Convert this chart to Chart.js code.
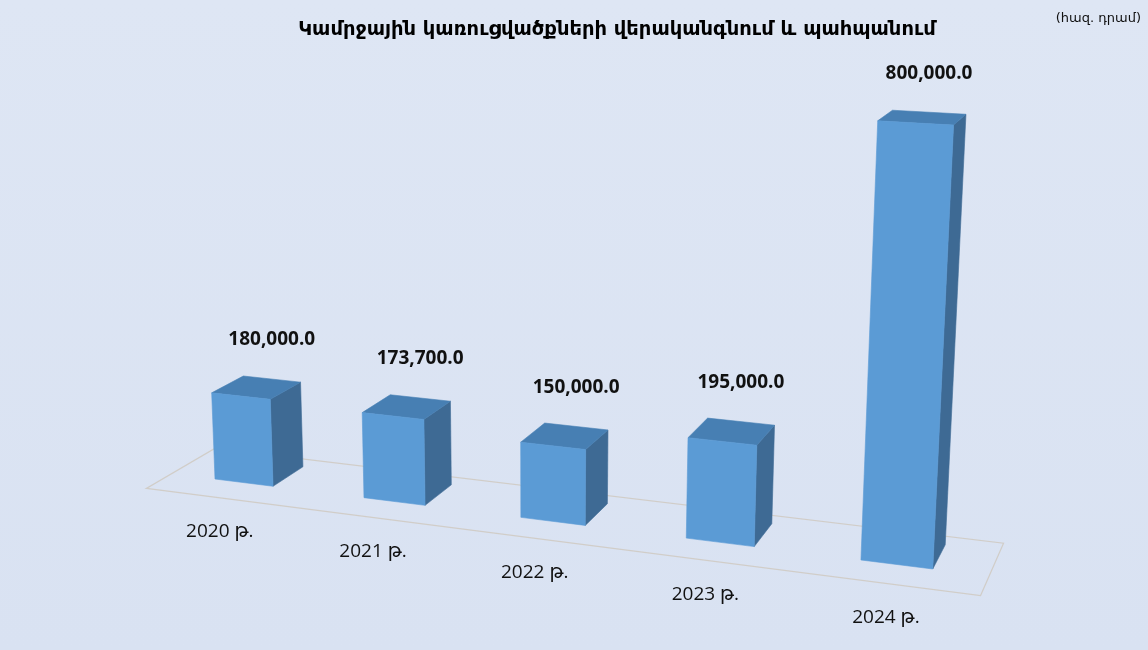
<!DOCTYPE html>
<html lang="hy">
<head>
<meta charset="utf-8">
<title>Կամրջային կառուցվածքների վերականգնում և պահպանում</title>
<script src="https://cdn.jsdelivr.net/npm/chart.js@4.4.1/dist/chart.umd.min.js"></script>
<style>
    html, body {
        margin: 0;
        padding: 0;
    }
    body {
        width: 1148px;
        height: 650px;
        overflow: hidden;
        background: linear-gradient(#dee6f4, #d9e2f2);
    }
</style>
</head>
<body>
<canvas id="bridgeChart" width="1148" height="650"></canvas>
<script>
// Chart data
const years = ['2020 թ.', '2021 թ.', '2022 թ.', '2023 թ.', '2024 թ.'];
const amounts = [180000, 173700, 150000, 195000, 800000];
const chartTitle = 'Կամրջային կառուցվածքների վերականգնում և պահպանում';
const unitNote = '(հազ. դրամ)';

// Perspective camera fitted to the reference (three vanishing points)
// X = category slot, Y = thousands, Z = bar depth
const camera = {
    origin: [215, 479],
    vx: [-5560, -245], wx: -0.02515,
    vy: [541, 8938], wy: -5.6e-5,
    vz: [1330, -203], wz: 0.0288
};
const barWidth = 0.3956;     // share of a slot
const floorDepth = [-0.75, 1.35];

const colors = {
    front: '#5b9bd5',
    side: '#3e6a94',
    top: '#477fb3',
    floor: 'rgba(205, 198, 186, 0.75)',
    text: '#111111'
};

function project(X, Y, Z) {
    const c = camera;
    const d = 1 + c.wx * X + c.wy * Y + c.wz * Z;
    return [
        (c.wx * X * c.vx[0] + c.wy * Y * c.vy[0] + c.wz * Z * c.vz[0] + c.origin[0]) / d,
        (c.wx * X * c.vx[1] + c.wy * Y * c.vy[1] + c.wz * Z * c.vz[1] + c.origin[1]) / d
    ];
}

function fillPoly(ctx, pts, color) {
    ctx.beginPath();
    ctx.moveTo(pts[0][0], pts[0][1]);
    for (let k = 1; k < pts.length; k++) ctx.lineTo(pts[k][0], pts[k][1]);
    ctx.closePath();
    ctx.fillStyle = color;
    ctx.fill();
    ctx.strokeStyle = color;
    ctx.lineWidth = 0.6;
    ctx.stroke();
}

// slot position and height in world units, read back from the chart scales
function slotOf(chart, i) {
    const xs = chart.scales.x;
    const slot = xs.width / years.length;
    return (xs.getPixelForValue(i) - xs.left) / slot - 0.5;
}
function heightOf(chart, v) {
    const ys = chart.scales.y;
    const unit = ys.getPixelForValue(0) - ys.getPixelForValue(1000);
    return (ys.getPixelForValue(0) - ys.getPixelForValue(v)) / unit;
}

const box3d = {
    id: 'box3d',
    beforeDatasetsDraw(chart) {
        const ctx = chart.ctx;
        const x0 = slotOf(chart, 0) - 0.3;
        const x1 = slotOf(chart, years.length - 1) + 0.7;
        const pts = [
            project(x0, 0, floorDepth[0]),
            project(x1, 0, floorDepth[0]),
            project(x1, 0, floorDepth[1]),
            project(x0, 0, floorDepth[1])
        ];
        ctx.save();
        ctx.beginPath();
        ctx.moveTo(pts[0][0], pts[0][1]);
        pts.slice(1).forEach(p => ctx.lineTo(p[0], p[1]));
        ctx.closePath();
        ctx.strokeStyle = colors.floor;
        ctx.lineWidth = 1.2;
        ctx.stroke();
        ctx.restore();
    },
    afterDatasetsDraw(chart) {
        const ctx = chart.ctx;
        const meta = chart.getDatasetMeta(0);
        ctx.save();
        meta.data.forEach((bar, i) => {
            const v = chart.data.datasets[0].data[i];
            const xa = slotOf(chart, i);
            const xb = xa + barWidth;
            const h = heightOf(chart, v);

            const fbl = project(xa, 0, 0), fbr = project(xb, 0, 0);
            const ftl = project(xa, h, 0), ftr = project(xb, h, 0);
            const btl = project(xa, h, 1), btr = project(xb, h, 1);
            const bbr = project(xb, 0, 1);

            fillPoly(ctx, [fbr, bbr, btr, ftr], colors.side);
            fillPoly(ctx, [ftl, ftr, btr, btl], colors.top);
            fillPoly(ctx, [fbl, fbr, ftr, ftl], colors.front);

            // value label above the bar
            const mid = xa + barWidth / 2;
            const tp = project(mid, h, 1);
            ctx.fillStyle = colors.text;
            ctx.textAlign = 'center';
            ctx.textBaseline = 'middle';
            ctx.font = 'bold 19px "Open Sans", "DejaVu Sans", sans-serif';
            const txt = v.toLocaleString('en-US', { minimumFractionDigits: 1, maximumFractionDigits: 1 });
            ctx.fillText(txt, tp[0], tp[1] - 39);

            // category label in front of the floor
            const lp = project(mid, 0, floorDepth[0]);
            ctx.font = '19px "Open Sans", "DejaVu Sans", sans-serif';
            ctx.fillText(chart.data.labels[i], lp[0], lp[1] + 34);
        });

        // unit note, top right
        ctx.font = '13px "DejaVu Sans", sans-serif';
        ctx.textAlign = 'right';
        ctx.textBaseline = 'middle';
        ctx.fillText(unitNote, 1141, 19);
        ctx.restore();
    }
};

const chart = new Chart(document.getElementById('bridgeChart'), {
    type: 'bar',
    data: {
        labels: years,
        datasets: [{
            label: 'հազ. դրամ',
            data: amounts,
            backgroundColor: 'rgba(0, 0, 0, 0)',
            borderWidth: 0
        }]
    },
    options: {
        responsive: false,
        animation: false,
        devicePixelRatio: 1,
        layout: {
            padding: { left: 86, right: 0, top: 0, bottom: 0 }
        },
        scales: {
            x: { display: false },
            y: { display: false, min: 0, max: 1000000 }
        },
        plugins: {
            legend: { display: false },
            tooltip: { enabled: false },
            title: {
                display: true,
                text: chartTitle,
                color: '#000000',
                font: { family: '"DejaVu Sans", sans-serif', size: 19.5, weight: 'bold' },
                padding: { top: 18, bottom: 10 }
            }
        }
    },
    plugins: [box3d]
});
</script>
</body>
</html>
